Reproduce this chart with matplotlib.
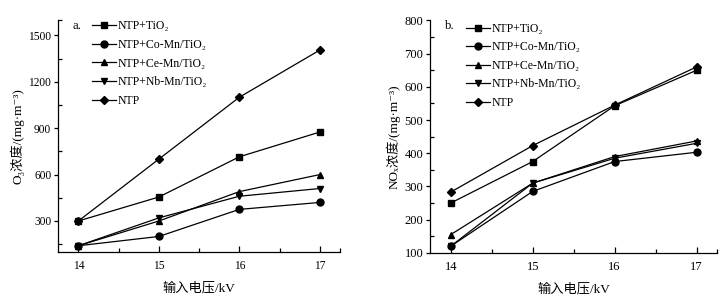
import matplotlib
matplotlib.use("Agg")
import matplotlib.pyplot as plt
from matplotlib.ticker import FixedLocator, NullFormatter

plt.rcParams['font.family'] = ['Liberation Serif', 'DejaVu Serif', 'Noto Sans CJK SC']
plt.rcParams['font.size'] = 8.5

# 数据
voltage = [14, 15, 16, 17]
labels = ['NTP+TiO₂', 'NTP+Co-Mn/TiO₂', 'NTP+Ce-Mn/TiO₂', 'NTP+Nb-Mn/TiO₂', 'NTP']
markers = ['s', 'o', '^', 'v', 'D']

o3_tio2 = [300, 455, 715, 875]
o3_comn = [140, 200, 375, 420]
o3_cemn = [140, 300, 490, 600]
o3_nbmn = [140, 320, 460, 510]
o3_ntp = [300, 700, 1100, 1405]

nox_tio2 = [250, 375, 543, 650]
nox_comn = [120, 285, 375, 403]
nox_cemn = [155, 310, 390, 437]
nox_nbmn = [120, 310, 385, 430]
nox_ntp = [283, 423, 545, 660]

fig = plt.figure(figsize=(7.28, 3.01), dpi=100)
ax1 = fig.add_axes([0.080, 0.163, 0.387, 0.771])
ax2 = fig.add_axes([0.591, 0.160, 0.394, 0.772])


def draw_panel(ax, series, ylim, yticks, yminor, ylabel, tag, leg_x, leg_y, leg_sp, fs):
    for vals, lab, mk in zip(series, labels, markers):
        ms = 4.5 if mk == 'D' else 5
        ax.plot(voltage, vals, color='black', lw=0.9, marker=mk, ms=ms, label=lab)
    ax.set_xlim(13.75, 17.25)
    ax.set_ylim(*ylim)
    ax.set_xticks(voltage)
    ax.xaxis.set_minor_locator(FixedLocator([14.5, 15.5, 16.5, 17.25]))
    ax.set_yticks(yticks)
    ax.yaxis.set_minor_locator(FixedLocator(yminor))
    ax.yaxis.set_minor_formatter(NullFormatter())
    ax.tick_params(axis='x', which='major', direction='in', length=4, width=0.9, pad=6, labelsize=fs)
    ax.tick_params(axis='x', which='minor', direction='in', length=3, width=0.9)
    ax.tick_params(axis='y', which='major', direction='out', length=3, width=0.9, pad=2, labelsize=fs)
    ax.tick_params(axis='y', which='minor', direction='in', length=3, width=0.9)
    ax.spines['top'].set_visible(False)
    ax.spines['right'].set_visible(False)
    ax.spines['left'].set_linewidth(0.9)
    ax.spines['bottom'].set_linewidth(0.9)
    ax.set_xlabel('输入电压/kV', fontsize=9.5, labelpad=7)
    ax.set_ylabel(ylabel, fontsize=9.5, labelpad=3)
    ax.text(0.05, 0.975, tag, transform=ax.transAxes, fontsize=9, va='center')
    ax.legend(loc='upper left', bbox_to_anchor=(leg_x, leg_y), frameon=False,
              fontsize=8.5, handlelength=2.0, handletextpad=0.2, labelspacing=leg_sp,
              borderpad=0, borderaxespad=0)


draw_panel(ax1, [o3_tio2, o3_comn, o3_cemn, o3_nbmn, o3_ntp], (100, 1600),
           [300, 600, 900, 1200, 1500], [150, 450, 750, 1050, 1350, 1600],
           'O₃浓度/(mg·m⁻³)', 'a.', 0.12, 1.0, 0.58, 8.3)
draw_panel(ax2, [nox_tio2, nox_comn, nox_cemn, nox_nbmn, nox_ntp], (100, 800),
           [100, 200, 300, 400, 500, 600, 700, 800],
           [150, 250, 350, 450, 550, 650, 750, 800],
           'NOₓ浓度/(mg·m⁻³)', 'b.', 0.125, 0.99, 0.55, 9)

fig.savefig('out.png', dpi=100)
